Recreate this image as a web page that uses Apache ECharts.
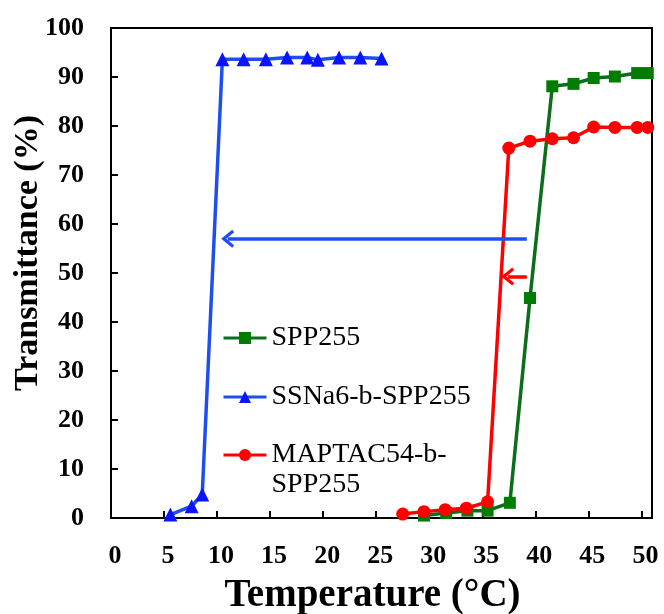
<!DOCTYPE html>
<html>
<head>
<meta charset="utf-8">
<script src="https://cdn.jsdelivr.net/npm/echarts@6/dist/echarts.min.js"></script>
<style>
  html, body { margin: 0; padding: 0; background: #fff; }
  #chart { width: 664px; height: 614px; }
</style>
</head>
<body>
<div id="chart"></div>
<script>
const sppTemp = [29.5, 31.6, 33.6, 35.5, 37.6, 39.5, 41.6, 43.6, 45.5, 47.5, 49.6, 50.6];
const sppTrans = [0.5, 1.0, 1.5, 1.5, 3.1, 44.9, 88.1, 88.6, 89.8, 90.1, 90.8, 90.8];

const ssnaTemp = [5.6, 7.6, 8.6, 10.5, 12.5, 14.6, 16.6, 18.5, 19.5, 21.5, 23.5, 25.5];
const ssnaTrans = [0.7, 2.4, 4.8, 93.6, 93.6, 93.6, 94.0, 94.0, 93.5, 94.0, 94.0, 93.8];

const maptacTemp = [27.5, 29.5, 31.5, 33.5, 35.5, 37.5, 39.5, 41.6, 43.6, 45.5, 47.5, 49.6, 50.6];
const maptacTrans = [0.8, 1.3, 1.7, 2.0, 3.3, 75.5, 76.9, 77.4, 77.6, 79.8, 79.7, 79.7, 79.7];

// shift arrows: [from temp, to temp, transmittance]
const blueArrow = [39.2, 11.0, 57.0];
const redArrow = [39.2, 37.4, 49.3];

const FONT = 'Liberation Serif';
const chevron = 'path://M9,0 L18,11 L15.5,13 L9,5 L2.5,13 L0,11 Z';

const zip = (xs, ys) => xs.map((x, i) => [x, ys[i]]);

const arrow = (a, color) => ({
  silent: true,
  animation: false,
  symbol: ['none', chevron],
  symbolSize: [18, 13],
  label: { show: false },
  lineStyle: { color: color, width: 3.5, type: 'solid' },
  emphasis: { disabled: true },
  data: [[{ coord: [a[0], a[2]] }, { coord: [a[1], a[2]] }]]
});

const legendBase = {
  orient: 'vertical',
  left: 222,
  padding: 0,
  itemWidth: 43,
  itemHeight: 15,
  itemGap: 29,
  lineStyle: { width: 3 },
  textStyle: { fontFamily: FONT, fontSize: 28, lineHeight: 30, color: '#000' }
};

const chart = echarts.init(document.getElementById('chart'));

chart.setOption({
  animation: false,
  backgroundColor: '#fff',
  textStyle: { fontFamily: FONT },
  grid: {
    left: 111,
    right: 12,
    top: 28,
    bottom: 96,
    outerBoundsMode: 'none',
    containLabel: false,
    show: true,
    borderColor: '#000',
    borderWidth: 2
  },
  legend: [
    Object.assign({}, legendBase, {
      top: 323,
      data: ['SPP255', 'SSNa6-b-SPP255']
    }),
    // second line of the name hangs below, the icon stays on the first line
    Object.assign({}, legendBase, {
      top: 410,
      formatter: () => ' \nMAPTAC54-b-\nSPP255',
      data: ['MAPTAC54-b-SPP255']
    })
  ],
  xAxis: {
    type: 'value',
    min: 0,
    max: 51,
    interval: 5,
    name: 'Temperature (°C)',
    nameLocation: 'middle',
    nameGap: 58,
    nameMoveOverlap: false,
    nameTextStyle: {
      fontFamily: FONT, fontSize: 39, fontWeight: 'bold', color: '#000',
      padding: [0, 18, 0, 0]
    },
    axisLine: { show: true, lineStyle: { color: '#000', width: 2 } },
    axisTick: { show: true, inside: true, length: 7, lineStyle: { color: '#000', width: 2 } },
    axisLabel: {
      margin: 25,
      padding: [0, 0, 0, 8],
      fontFamily: FONT, fontSize: 26, fontWeight: 'bold', color: '#000',
      formatter: (v) => v % 5 === 0 ? String(v) : ''
    },
    splitLine: { show: false }
  },
  yAxis: {
    type: 'value',
    min: 0,
    max: 100,
    interval: 10,
    name: 'Transmittance (%)',
    nameLocation: 'middle',
    nameGap: 66,
    nameMoveOverlap: false,
    nameTextStyle: {
      fontFamily: FONT, fontSize: 34, fontWeight: 'bold', color: '#000',
      padding: [0, 0, 0, 40]
    },
    axisLine: { show: true, lineStyle: { color: '#000', width: 2 } },
    axisTick: { show: true, inside: true, length: 7, lineStyle: { color: '#000', width: 2 } },
    axisLabel: {
      margin: 27,
      padding: [6, 0, 0, 0],
      fontFamily: FONT, fontSize: 26, fontWeight: 'bold', color: '#000'
    },
    splitLine: { show: false }
  },
  series: [
    {
      name: 'SPP255',
      type: 'line',
      data: zip(sppTemp, sppTrans),
      symbol: 'rect',
      symbolSize: 12,
      lineStyle: { color: '#0b6e1c', width: 3.5 },
      itemStyle: { color: '#007d00' },
      z: 2
    },
    {
      name: 'SSNa6-b-SPP255',
      type: 'line',
      data: zip(ssnaTemp, ssnaTrans),
      symbol: 'triangle',
      symbolSize: 14,
      lineStyle: { color: '#1f4ef0', width: 3.5 },
      itemStyle: { color: '#0a14ff' },
      markLine: arrow(blueArrow, '#1f4ef0'),
      z: 3
    },
    {
      name: 'MAPTAC54-b-SPP255',
      type: 'line',
      data: zip(maptacTemp, maptacTrans),
      symbol: 'circle',
      symbolSize: 13,
      lineStyle: { color: '#ff0000', width: 3.5 },
      itemStyle: { color: '#ff0000' },
      markLine: arrow(redArrow, '#ff0000'),
      z: 4
    }
  ]
});
</script>
</body>
</html>
